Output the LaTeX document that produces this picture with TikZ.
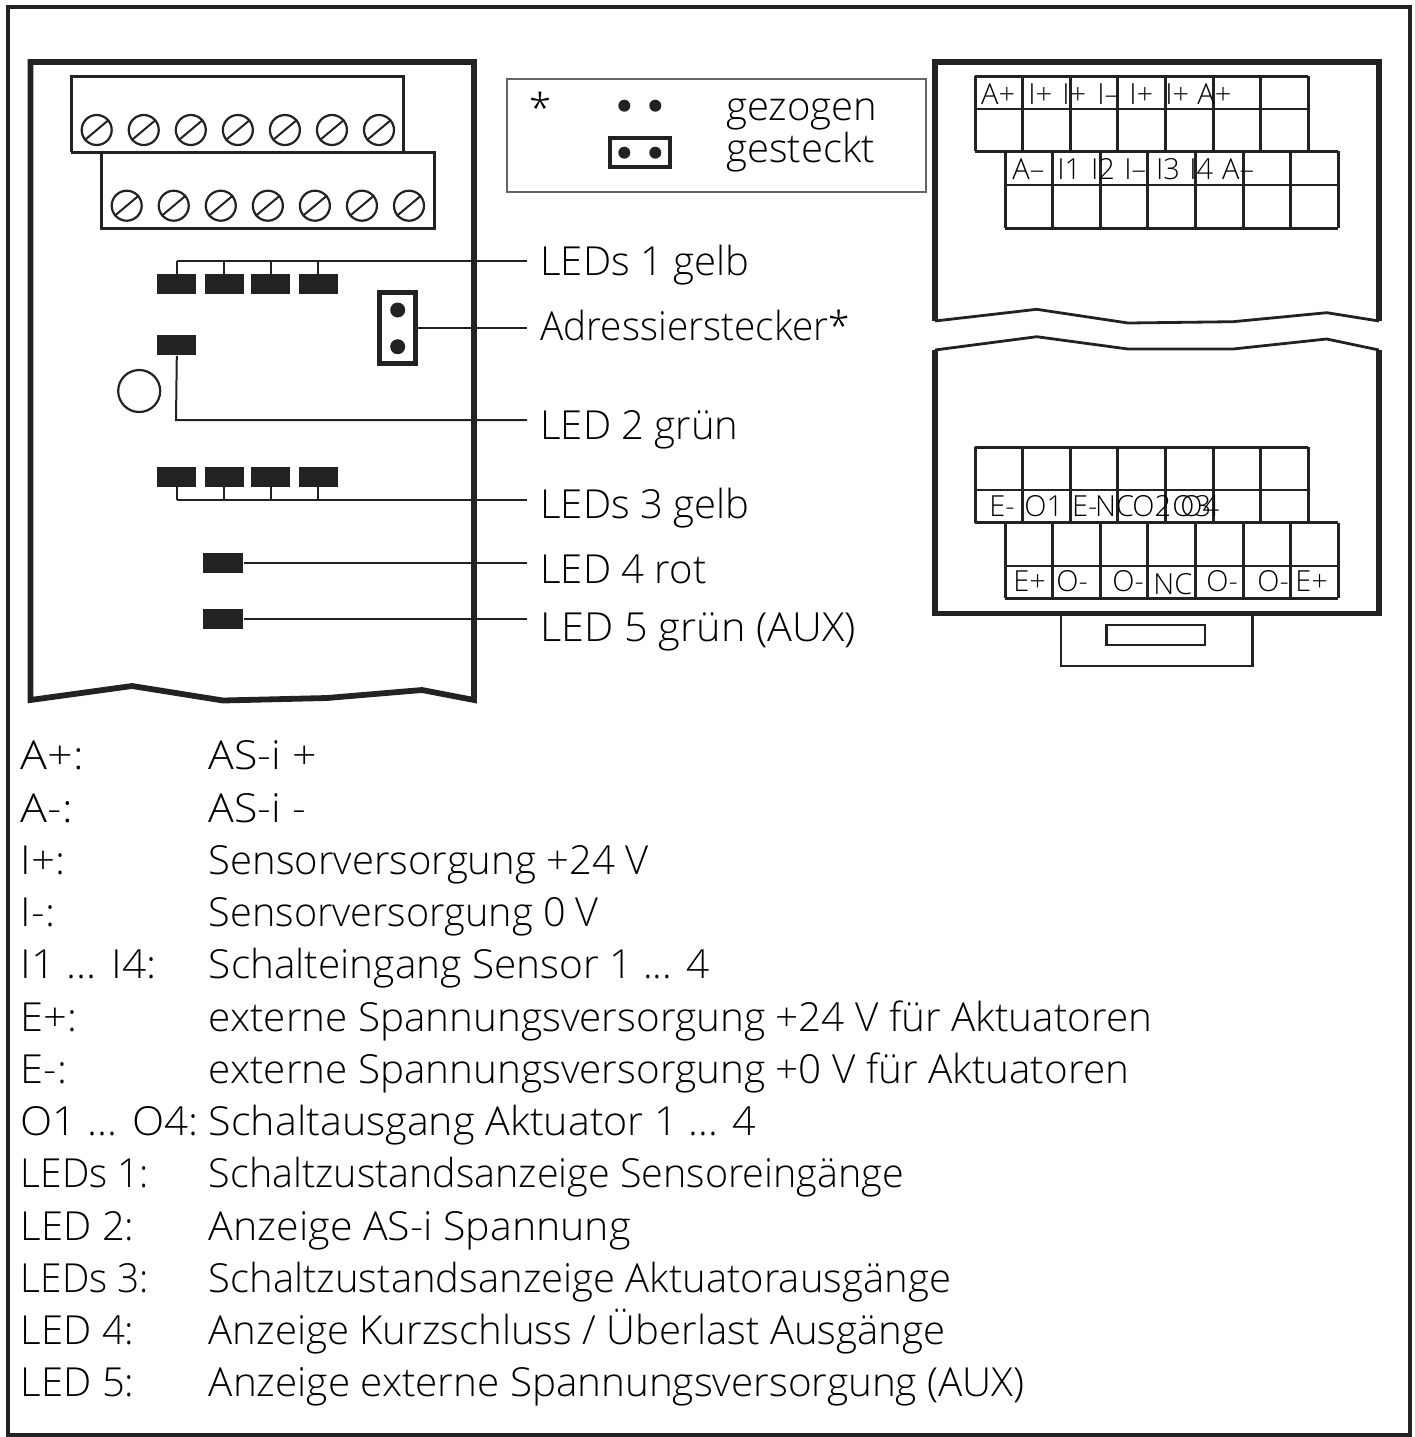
\documentclass[tikz,border=0pt]{standalone}
\usepackage{fontspec}
\setmainfont{Open Sans}[UprightFont=* Light]
\usetikzlibrary{positioning}
\newcommand{\colA}{975}
\newcommand{\colB}{1005}
\newcommand{\cellW}{47.62}
\definecolor{ink}{HTML}{222222}
\tikzset{
	wall/.style = {line width=2.9pt, color=ink, line join=miter},
	wave/.style = {line width=1.4pt, color=ink},
	wire/.style = {line width=1pt, color=ink},
	grid/.style = {line width=1.5pt, color=ink},
	led/.style = {rectangle, fill=ink, inner sep=0pt, minimum width=19.5pt, minimum height=10pt},
	ledwide/.style = {led, minimum width=20pt},
	screw/.style = {circle, draw=ink, line width=1.1pt, inner sep=0pt, minimum size=15pt},
	pin/.style = {circle, fill=ink, inner sep=0pt, minimum size=7.5pt},
	plug/.style = {rectangle, draw=ink, inner sep=0pt},
	big/.style = {anchor=base west, inner ysep=0pt, inner xsep=6.5pt, text=black, font=\fontsize{20}{24}\selectfont},
	key/.style = {anchor=base west, inner sep=0pt, text=black, font=\fontsize{20}{24}\selectfont},
	term/.style = {anchor=base west, inner sep=0pt, text=black, font=\fontsize{14.5}{16}\selectfont},
}
\begin{document}
\begin{tikzpicture}[x=0.5pt, y=-0.5pt]
	\useasboundingbox (0,0) rectangle (1415,1437);
	\draw[wall, line width=2.3pt] (8,7) rectangle (1410,1435);
	% left housing
	\draw[wall] (30.5,700) -- (30.5,62) -- (474,62) -- (474,700) -- (422,690) -- (327,698) -- (223,700.5) -- (132,686) -- cycle;
	\draw[grid] (71,152) -- (71,76) -- (403,76) -- (403,152);
	\draw[grid] (71,152) -- (434,152) -- (434,228) -- (101,228) -- (101,152);
	\foreach \i in {0,...,6} {
		\node[screw] (screwA\i) at (96.7+\i*47.05, 130) {};
		\draw[wire] (screwA\i.220) -- (screwA\i.40);
		\node[screw] (screwB\i) at (126.7+\i*47.05, 205.7) {};
		\draw[wire] (screwB\i.220) -- (screwB\i.40);
	}
	% labels
	\node[big] (lblA) at (527,275) {LEDs 1 gelb};
	\node[big] (lblB) at (527,340) {\scalebox{0.968}[1]{Adressierstecker*}};
	\node[big] (lblC) at (527,439) {LED 2 grün};
	\node[big] (lblD) at (527,518) {LEDs 3 gelb};
	\node[big] (lblE) at (527,583) {LED 4 rot};
	\node[big] (lblF) at (527,641) {\scalebox{1.036}[1]{LED 5 grün (AUX)}};
	% LEDs
	\coordinate (busA) at (176.7,260.7);
	\coordinate (busC) at (176,420);
	\coordinate (busD) at (176.7,500.3);
	\foreach \i/\x in {1/176.8,2/224,3/270.8,4/318} {
		\node[led] (ledA\i) at (\x,284.2) {};
		\draw[wire] (ledA\i.north) -- (ledA\i.north |- busA);
		\node[led] (ledD\i) at (\x,477) {};
		\draw[wire] (ledD\i.south) -- (ledD\i.south |- busD);
	}
	\draw[wire] (busA) -- (busA -| lblA.west);
	\draw[wire] (busD) -- (busD -| lblD.west);
	\node[led] (ledC) at (176.8,345.4) {};
	\draw[wire] (ledC.south) -- (busC) -- (busC -| lblC.west);
	\node[ledwide] (ledE) at (223.3,563) {};
	\draw[wire] (ledE.east) -- (ledE.east -| lblE.west);
	\node[ledwide] (ledF) at (223.3,619) {};
	\draw[wire] (ledF.east) -- (ledF.east -| lblF.west);
	\node[circle, draw=ink, line width=1.1pt, inner sep=0pt, minimum size=21pt] (lamp) at (139.2,391) {};
	% address plug
	\node[plug, line width=2.5pt, minimum width=18pt, minimum height=35.5pt] (plugA) at (397.7,328.3) {};
	\node[pin] (pinA) at (397.7,310) {};
	\node[pin] (pinB) at (397.7,346.7) {};
	\draw[wire] (plugA.east) -- (plugA.east -| lblB.west);
	% star box
	\draw[line width=0.8pt, color=ink!70] (506.7,79) rectangle (926,191.7);
	\node[key] (star) at (529,122) {*};
	\node[pin, minimum size=6pt] (pinC) at (624.3,105.7) {};
	\node[pin, minimum size=6pt] (pinD) at (655.3,105.7) {};
	\node[plug, line width=2pt, minimum width=29.8pt, minimum height=14.7pt] (plugB) at (639.8,152.7) {};
	\node[pin, minimum size=6pt] (pinE) at (624.3,152.7) {};
	\node[pin, minimum size=6pt] (pinF) at (655.3,152.7) {};
	\node[key] (txtA) at (726,120) {gezogen};
	\node[key] (txtB) at (726,162) {gesteckt};
	% upper right housing
	\draw[wall] (935,321) -- (935,62) -- (1379,62) -- (1379,321);
	\draw[wave] (935,321) -- (1036.7,309.3) -- (1128,323) -- (1233,321.7) -- (1326.7,312.7) -- (1379,321);
	\foreach \i in {0,...,7} {
		\draw[grid] (\colA+\i*\cellW,76) -- (\colA+\i*\cellW,151);
		\draw[grid] (\colB+\i*\cellW,151) -- (\colB+\i*\cellW,228.3);
	}
	\draw[grid] (\colA,76) -- (\colA+7*\cellW,76);
	\draw[line width=1pt, color=ink] (\colA,109.3) -- (\colA+7*\cellW,109.3);
	\draw[grid] (\colA,151) -- (\colB+7*\cellW,151);
	\draw[line width=1pt, color=ink] (\colB,185) -- (\colB+7*\cellW,185);
	\draw[grid] (\colB,228.3) -- (\colB+7*\cellW,228.3);
	\foreach \x/\t [count=\n] in {980.7/A+,1028/I+,1062/I+,1097/I–,1129/I+,1165/I+,1197/A+} {
		\node[term] (termA\n) at (\x,104) {\t};
	}
	\foreach \x/\t [count=\n] in {1012/A–,1057/I1,1090.7/I2,1124/I–,1155.7/I3,1189/I4,1221.7/A–} {
		\node[term] (termB\n) at (\x,179) {\t};
	}
	% lower right housing
	\draw[wall] (935,350) -- (935,613.5) -- (1379,613.5) -- (1379,350);
	\draw[wave] (935,350) -- (1036.7,336.7) -- (1128,349) -- (1233,349) -- (1326.7,339) -- (1379,350);
	\foreach \i in {0,...,7} {
		\draw[grid] (\colA+\i*\cellW,447.3) -- (\colA+\i*\cellW,522.7);
		\draw[grid] (\colB+\i*\cellW,522.7) -- (\colB+\i*\cellW,598.3);
	}
	\draw[grid] (\colA,447.3) -- (\colA+7*\cellW,447.3);
	\draw[line width=1pt, color=ink] (\colA,490) -- (\colA+7*\cellW,490);
	\draw[grid] (\colA,522.7) -- (\colB+7*\cellW,522.7);
	\draw[line width=1pt, color=ink] (\colB,566) -- (\colB+7*\cellW,566);
	\draw[grid] (\colB,598.3) -- (\colB+7*\cellW,598.3);
	\foreach \x/\t [count=\n] in {989/E-,1024/O1,1071.7/E-,1094.7/NC,1132/O2,1172/O3,1180/O4} {
		\node[term] (termC\n) at (\x,516) {\t};
	}
	\foreach \x/\y/\t [count=\n] in {1013/591.5/E+,1056/591.5/O-,1112/591.5/O-,1153/594.5/NC,1206/591.5/O-,1257/591.5/O-,1295/591.5/E+} {
		\node[term] (termD\n) at (\x,\y) {\t};
	}
	% tab
	\draw[wave] (1061,613.5) -- (1061,666) -- (1252.7,666) -- (1252.7,613.5);
	\draw[wave] (1106.7,625) rectangle (1205,645);
	% legend
	\foreach \a/\s/\b/\w [count=\n] in {
		{A+:}/1.12/{AS-i +}/1.07,
		{A-:}/1.12/{AS-i -}/1.07,
		{I+:}/1.05/{Sensorversorgung +24 V}/1.0,
		{I-:}/1.05/{Sensorversorgung 0 V}/0.99,
		{I1 ... I4:}/1.06/{Schalteingang Sensor 1 ... 4}/1.014,
		{E+:}/1.04/{externe Spannungsversorgung +24 V für Aktuatoren}/1.01,
		{E-:}/1.04/{externe Spannungsversorgung +0 V für Aktuatoren}/1.01,
		{O1 ... O4:}/1.05/{Schaltausgang Aktuator 1 ... 4}/1.03,
		{LEDs 1:}/0.97/{Schaltzustandsanzeige Sensoreingänge}/0.987,
		{LED 2:}/1.0/{Anzeige AS-i Spannung}/1.027,
		{LEDs 3:}/0.97/{Schaltzustandsanzeige Aktuatorausgänge}/1.0,
		{LED 4:}/1.0/{Anzeige Kurzschluss / Überlast Ausgänge}/1.003,
		{LED 5:}/1.0/{Anzeige externe Spannungsversorgung (AUX)}/1.01} {
		\node[key] (keyA\n) at (20.5,717.7+\n*52.25) {\scalebox{\s}[1]{\a}};
		\node[key] (keyB\n) at (208.5,717.7+\n*52.25) {\scalebox{\w}[1]{\b}};
	}
\end{tikzpicture}
\end{document}
